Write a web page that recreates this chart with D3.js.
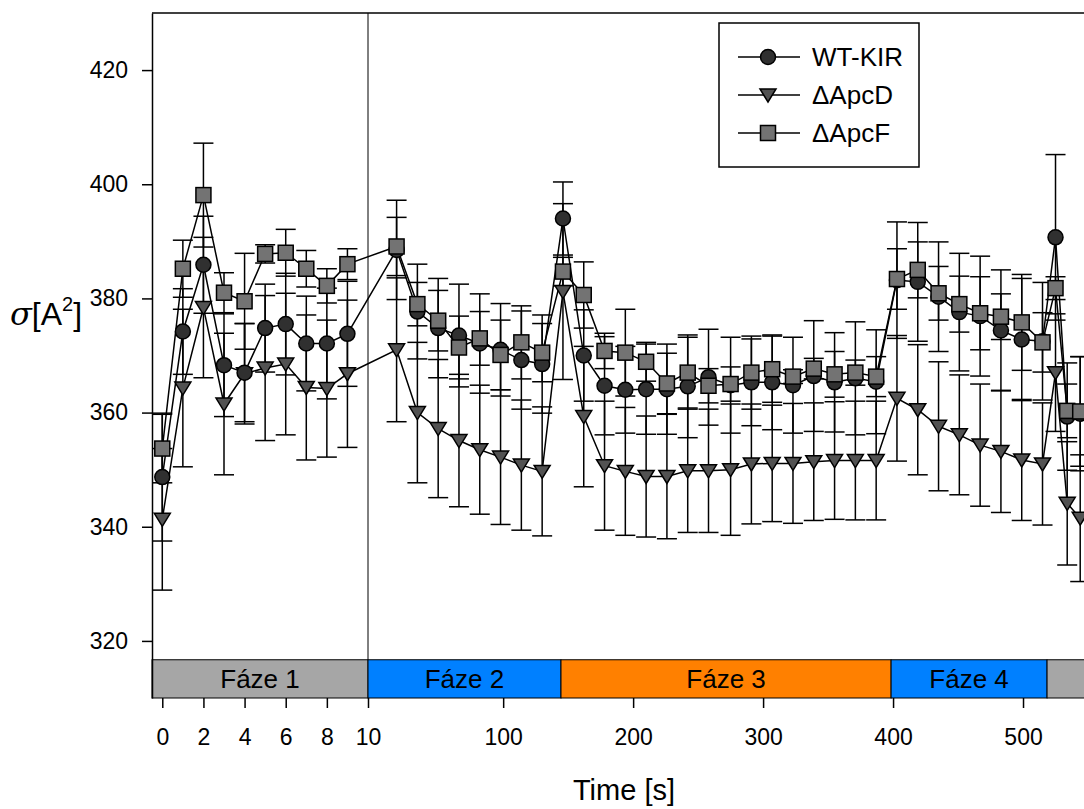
<!DOCTYPE html>
<html>
<head>
<meta charset="utf-8">
<script src="https://cdn.jsdelivr.net/npm/d3@7"></script>
<style>
body { margin: 0; background: #fff; }
svg { display: block; font-family: "Liberation Sans", Arial, sans-serif; }
</style>
</head>
<body>
<div id="chart"></div>
<script>
// time points: phase 1 (left part of the broken axis) and the rest (right part)
var timesLeft = [0, 1, 2, 3, 4, 5, 6, 7, 8, 9];
var timesRight = [18, 34, 50, 66, 82, 98, 114, 130, 146, 162, 178, 194, 210, 226, 242, 258, 275, 291,
    307, 323, 339, 355, 371, 387, 403, 419, 435, 451, 467, 483, 499, 515, 525, 534, 544];

var wtMean = [348.7, 374.2, 385.9, 368.3, 367.0, 374.8, 375.5, 372.1, 372.1, 373.8,
    388.5, 377.7, 374.8, 373.5, 372.1, 371.0, 369.2, 368.5, 394.0, 370.0, 364.7, 364.0, 364.1, 364.1,
    364.6, 366.2, 364.8, 365.3, 365.3, 364.8, 366.4, 365.3, 366.0, 365.4, 383.2, 382.9, 380.3, 377.6,
    376.9, 374.4, 372.8, 372.5, 390.7, 359.3, 359.8];
var wtErr = [11.2, 7.5, 8.5, 9.0, 8.6, 7.7, 8.9, 8.3, 9.7, 9.2,
    8.7, 8.3, 8.7, 9.0, 8.7, 8.1, 8.6, 8.6, 6.4, 8.0, 8.6, 7.6, 7.9, 7.9,
    9.0, 8.4, 8.4, 7.6, 8.3, 8.4, 9.7, 8.7, 9.9, 9.1, 10.2, 10.4, 9.6, 10.3,
    10.5, 10.6, 10.7, 10.3, 14.5, 9.4, 10.0];

var apcdMean = [341.3, 364.3, 378.4, 361.5, 366.8, 367.8, 368.5, 364.4, 364.2, 366.8,
    371.0, 360.0, 357.2, 355.1, 353.5, 352.2, 350.8, 349.7, 381.2, 359.3, 350.7, 349.7, 348.8, 348.8,
    349.8, 349.8, 350.0, 351.0, 351.1, 351.1, 351.4, 351.6, 351.6, 351.6, 362.5, 360.5, 357.6, 356.1,
    354.3, 353.2, 351.7, 351.0, 367.0, 344.1, 341.5];
var apcdErr = [12.4, 13.8, 12.3, 12.4, 8.8, 12.7, 12.4, 12.7, 12.0, 12.9,
    12.6, 12.3, 12.1, 11.6, 11.3, 11.8, 11.4, 11.3, 15.4, 12.3, 11.3, 11.2, 10.6, 10.9,
    10.8, 10.8, 11.5, 10.5, 10.2, 10.5, 10.3, 10.3, 10.4, 10.4, 11.0, 11.4, 11.3, 10.5,
    10.7, 10.7, 10.6, 10.7, 10.3, 10.8, 11.1];

var apcfMean = [353.7, 385.2, 398.1, 381.0, 379.5, 387.8, 388.0, 385.2, 382.2, 386.0,
    389.1, 379.0, 376.1, 371.4, 373.0, 370.1, 372.3, 370.5, 384.7, 380.6, 370.8, 370.5, 368.9, 365.1,
    367.0, 364.7, 365.0, 367.0, 367.6, 366.3, 367.7, 366.7, 367.0, 366.3, 383.4, 385.0, 380.9, 379.0,
    377.4, 376.8, 375.8, 372.3, 381.8, 360.3, 360.2];
var apcfErr = [6.0, 5.0, 9.1, 3.5, 8.4, 1.6, 4.1, 3.2, 3.0, 2.7,
    5.1, 3.8, 5.3, 5.5, 4.7, 6.1, 6.4, 5.1, 2.5, 5.8, 3.1, 7.6, 3.4, 5.3,
    6.2, 3.0, 3.0, 6.4, 5.8, 1.2, 1.8, 4.0, 2.2, 3.5, 5.3, 4.9, 4.7, 4.9,
    6.4, 4.0, 8.4, 5.2, 2.0, 4.7, 9.6];

var seriesNames = ['WT-KIR', '\u0394ApcD', '\u0394ApcF'];

var phaseNames = ['Fáze 1', 'Fáze 2', 'Fáze 3', 'Fáze 4', 'Fáze 5'];
var phaseStart = [-0.5, -4, 144.5, 398.5, 518.5];
var phaseEnd = [10, 144.5, 398.5, 518.5, 660];
var phaseColors = ['#a6a6a6', '#0080ff', '#ff8000', '#0080ff', '#a6a6a6'];

var yTicks = [320, 340, 360, 380, 400, 420];
var xLeftTicks = [0, 2, 4, 6, 8, 10];
var xRightTicks = [100, 200, 300, 400, 500];

var width = 1084, height = 809;

var svg = d3.select('#chart').append('svg')
    .attr('width', width)
    .attr('height', height);

var y = d3.scaleLinear().domain([310, 430]).range([698, 13]);
var xL = d3.scaleLinear().domain([-0.5, 10]).range([152, 368]);
var xR = d3.scaleLinear().domain([-4, 560]).range([368, 1101]);

var nLeft = timesLeft.length;
function px(i) {
    return i < nLeft ? xL(timesLeft[i]) : xR(timesRight[i - nLeft]);
}

var series = [
    { name: seriesNames[0], mean: wtMean, err: wtErr, shape: 'circle', fill: '#303030' },
    { name: seriesNames[1], mean: apcdMean, err: apcdErr, shape: 'triangle', fill: '#525252' },
    { name: seriesNames[2], mean: apcfMean, err: apcfErr, shape: 'square', fill: '#737373' }
];
var drawOrder = [series[1], series[0], series[2]];

function marker(g, shape, fill) {
    var m;
    if (shape === 'circle') {
        m = g.append('circle').attr('r', 7.5);
    } else if (shape === 'square') {
        m = g.append('rect').attr('x', -7.5).attr('y', -7.5).attr('width', 15).attr('height', 15);
    } else {
        m = g.append('path').attr('d', 'M-8,-6L8,-6L0,7Z');
    }
    m.attr('fill', fill).attr('stroke', '#000').attr('stroke-width', 1.5);
    return m;
}

// phase bar
var phaseBar = svg.append('g').attr('class', 'phases');
phaseNames.forEach(function(name, i) {
    var sc = i === 0 ? xL : xR;
    var x0 = sc(phaseStart[i]), x1 = sc(phaseEnd[i]);
    phaseBar.append('rect')
        .attr('x', x0)
        .attr('y', y(316.7))
        .attr('width', x1 - x0)
        .attr('height', y(310) - y(316.7))
        .attr('fill', phaseColors[i])
        .attr('stroke', '#000')
        .attr('stroke-width', 1);
    // the last label lies past the right edge of the picture
    if ((x0 + x1) / 2 > width) return;
    phaseBar.append('text')
        .attr('x', (x0 + x1) / 2)
        .attr('y', y(313.35) + 9)
        .attr('text-anchor', 'middle')
        .attr('font-size', 26)
        .attr('fill', '#000')
        .text(name);
});

// frame: top line and axis break line
svg.append('line')
    .attr('x1', xL(-0.5)).attr('x2', width)
    .attr('y1', y(430)).attr('y2', y(430))
    .attr('stroke', '#000').attr('stroke-width', 1.5);
svg.append('line')
    .attr('x1', xL(10)).attr('x2', xL(10))
    .attr('y1', y(430)).attr('y2', y(316.7))
    .attr('stroke', '#000').attr('stroke-width', 1);

// axes
var yAxis = svg.append('g')
    .attr('transform', 'translate(' + xL(-0.5) + ',0)')
    .call(d3.axisLeft(y).tickValues(yTicks).tickSize(10).tickSizeOuter(0).tickPadding(14));
yAxis.selectAll('text').attr('font-size', 23).attr('font-family', null);
yAxis.selectAll('line, path').attr('stroke-width', 1.5);

var xAxisL = svg.append('g')
    .attr('transform', 'translate(0,' + y(310) + ')')
    .call(d3.axisBottom(xL).tickValues(xLeftTicks).tickSize(10).tickPadding(21));
var xAxisR = svg.append('g')
    .attr('transform', 'translate(0,' + y(310) + ')')
    .call(d3.axisBottom(xR).tickValues(xRightTicks).tickSize(10).tickPadding(21));
[xAxisL, xAxisR].forEach(function(ax) {
    ax.select('.domain').remove();
    ax.selectAll('text').attr('font-size', 23).attr('font-family', null);
    ax.selectAll('line').attr('stroke-width', 1.5);
});

// error bars
var errG = svg.append('g').attr('class', 'errors')
    .attr('stroke', '#000').attr('stroke-width', 1.5);
drawOrder.forEach(function(s) {
    s.mean.forEach(function(m, i) {
        var x = px(i), yt = y(m + s.err[i]), yb = y(m - s.err[i]);
        errG.append('line').attr('x1', x).attr('x2', x).attr('y1', yt).attr('y2', yb);
        errG.append('line').attr('x1', x - 10).attr('x2', x + 10).attr('y1', yt).attr('y2', yt);
        errG.append('line').attr('x1', x - 10).attr('x2', x + 10).attr('y1', yb).attr('y2', yb);
    });
});

// connecting lines
var line = d3.line()
    .x(function(d, i) { return px(i); })
    .y(function(d) { return y(d); });
drawOrder.forEach(function(s) {
    svg.append('path')
        .attr('d', line(s.mean))
        .attr('fill', 'none')
        .attr('stroke', '#000')
        .attr('stroke-width', 1.5);
});

// markers
drawOrder.forEach(function(s) {
    s.mean.forEach(function(m, i) {
        var g = svg.append('g').attr('transform', 'translate(' + px(i) + ',' + y(m) + ')');
        marker(g, s.shape, s.fill);
    });
});

// legend
var legend = svg.append('g').attr('class', 'legend');
legend.append('rect')
    .attr('x', 719).attr('y', 23).attr('width', 200).attr('height', 144)
    .attr('fill', '#fff').attr('stroke', '#000').attr('stroke-width', 1.5);
series.forEach(function(s, i) {
    var ly = 57 + i * 38;
    legend.append('line')
        .attr('x1', 738).attr('x2', 800).attr('y1', ly).attr('y2', ly)
        .attr('stroke', '#000').attr('stroke-width', 1.5);
    var g = legend.append('g').attr('transform', 'translate(768,' + ly + ')');
    marker(g, s.shape, s.fill);
    legend.append('text')
        .attr('x', 812).attr('y', ly + 9)
        .attr('font-size', 26)
        .text(s.name);
});

// axis titles
var yLabel = svg.append('text')
    .attr('x', 10).attr('y', 325)
    .attr('font-size', 32);
yLabel.append('tspan').attr('font-style', 'italic').attr('font-family', 'DejaVu Serif').text('\u03c3');
yLabel.append('tspan').text('[A');
yLabel.append('tspan').attr('font-size', 20).attr('dy', -14).text('2');
yLabel.append('tspan').attr('dy', 14).text(']');

svg.append('text')
    .attr('x', 624).attr('y', 800)
    .attr('text-anchor', 'middle')
    .attr('font-size', 29)
    .text('Time [s]');
</script>
</body>
</html>
